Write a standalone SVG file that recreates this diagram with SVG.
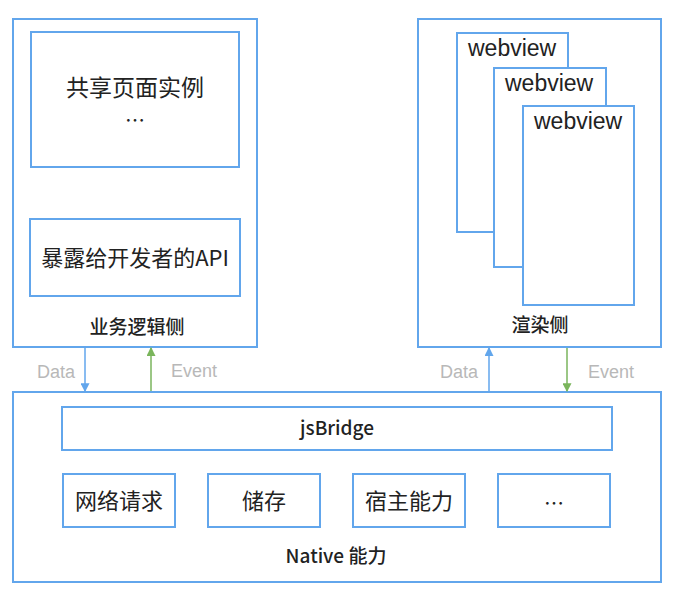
<svg xmlns="http://www.w3.org/2000/svg" width="680" height="601" viewBox="0 0 680 601">
<style>
.box{fill:#fff;stroke:#62a6ec;stroke-width:2}
.t{font-family:"Noto Sans CJK SC","Liberation Sans",sans-serif;fill:#222;text-anchor:middle}
.w{font-family:"Liberation Sans",Arial,sans-serif;fill:#222;font-size:23px}
.lab{font-family:"Noto Sans CJK SC","Liberation Sans",sans-serif;fill:#222;text-anchor:middle;font-size:19px;font-weight:500}
.dl{font-family:"Liberation Sans",Arial,sans-serif;fill:#b8b8b8;font-size:18px}
.blue{stroke:#62a6ec;stroke-width:1.5;fill:none}
.green{stroke:#7ab55c;stroke-width:1.5;fill:none}
</style>
<defs>
<marker id="ab" viewBox="0 0 8 8" refX="7" refY="4" markerWidth="6" markerHeight="6" orient="auto"><path d="M0,0 L8,4 L0,8 z" fill="#62a6ec"/></marker>
<marker id="ag" viewBox="0 0 8 8" refX="7" refY="4" markerWidth="6" markerHeight="6" orient="auto"><path d="M0,0 L8,4 L0,8 z" fill="#7ab55c"/></marker>
</defs>
<rect width="680" height="601" fill="#fff"/>
<g id="logic">
<rect class="box" x="13" y="19" width="244" height="328"/>
<text class="lab" x="137" y="334">业务逻辑侧</text>
</g>
<g id="shared">
<rect class="box" x="31" y="32" width="208" height="135"/>
<text class="t" x="135" y="96" font-size="23">共享页面实例</text>
<text class="t" x="135" y="128" font-size="20">…</text>
</g>
<g id="api">
<rect class="box" x="30" y="219" width="210" height="77"/>
<text class="t" x="135" y="266" font-size="22">暴露给开发者的API</text>
</g>
<g id="render">
<rect class="box" x="418" y="19" width="243" height="328"/>
<text class="lab" x="540" y="332">渲染侧</text>
</g>
<g id="webview1">
<rect class="box" x="457" y="33" width="111" height="199"/>
<text class="w" x="468" y="56">webview</text>
</g>
<g id="webview2">
<rect class="box" x="494" y="68" width="112" height="199"/>
<text class="w" x="505" y="91">webview</text>
</g>
<g id="webview3">
<rect class="box" x="523" y="106" width="111" height="199"/>
<text class="w" x="534" y="129">webview</text>
</g>
<g id="native">
<rect class="box" x="13" y="392" width="648" height="190"/>
<text class="lab" x="336" y="563">Native 能力</text>
</g>
<g id="jsbridge">
<rect class="box" x="62" y="407" width="550" height="43"/>
<text class="lab" x="337" y="435">jsBridge</text>
</g>
<g id="network">
<rect class="box" x="63" y="474" width="112" height="53"/>
<text class="t" x="119" y="509" font-size="22">网络请求</text>
</g>
<g id="storage">
<rect class="box" x="208" y="474" width="112" height="53"/>
<text class="t" x="264" y="509" font-size="22">储存</text>
</g>
<g id="host">
<rect class="box" x="353" y="474" width="112" height="53"/>
<text class="t" x="409" y="509" font-size="22">宿主能力</text>
</g>
<g id="more">
<rect class="box" x="498" y="474" width="112" height="53"/>
<text class="t" x="554" y="511" font-size="20">…</text>
</g>
<g id="connectors">
<line class="blue" x1="85" y1="348" x2="85" y2="391" marker-end="url(#ab)"/>
<line class="green" x1="151" y1="391" x2="151" y2="348" marker-end="url(#ag)"/>
<line class="blue" x1="489" y1="391" x2="489" y2="348" marker-end="url(#ab)"/>
<line class="green" x1="567" y1="348" x2="567" y2="391" marker-end="url(#ag)"/>
<text class="dl" x="37" y="378">Data</text>
<text class="dl" x="171" y="377">Event</text>
<text class="dl" x="440" y="378">Data</text>
<text class="dl" x="588" y="378">Event</text>
</g>
</svg>
